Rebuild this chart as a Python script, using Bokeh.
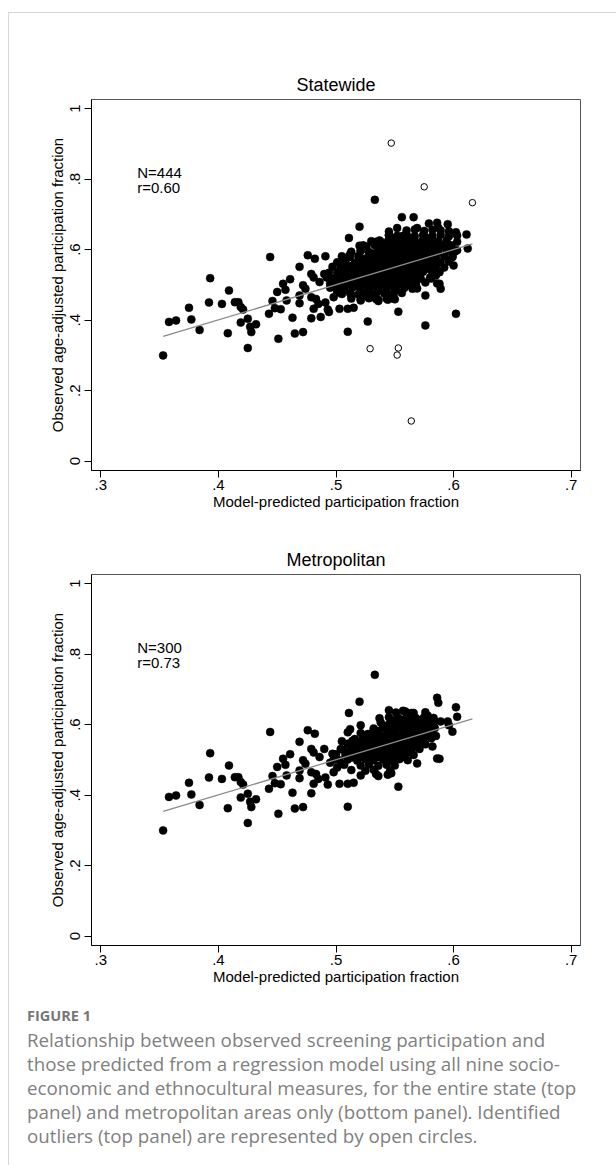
from bokeh.plotting import figure
from bokeh.models import Range1d, FixedTicker, Label, Div
from bokeh.layouts import column
from bokeh.embed import file_html
from bokeh.resources import INLINE

# ---------------- data ----------------
panel_titles = ["Statewide", "Metropolitan"]
n_labels = ["N=444", "N=300"]
r_labels = ["r=0.60", "r=0.73"]
x_title = "Model-predicted participation fraction"
y_title = "Observed age-adjusted participation fraction"
x_ticks = [0.3, 0.4, 0.5, 0.6, 0.7]
x_tick_labels = [".3", ".4", ".5", ".6", ".7"]
y_ticks = [0, 0.2, 0.4, 0.6, 0.8, 1]
y_tick_labels = ["0", ".2", ".4", ".6", ".8", "1"]

# areas present in both panels (lower predicted values)
shared_x = [0.353, 0.358, 0.364, 0.375, 0.377, 0.384, 0.393, 0.392, 0.403, 0.409,
            0.408, 0.414, 0.417, 0.419, 0.421, 0.419, 0.425, 0.427, 0.428, 0.432,
            0.425, 0.443, 0.444, 0.446, 0.448, 0.453, 0.451, 0.450, 0.455, 0.457,
            0.461, 0.458, 0.463, 0.465, 0.472, 0.469, 0.472, 0.474, 0.469, 0.469,
            0.476, 0.482]
shared_y = [0.300, 0.395, 0.399, 0.435, 0.402, 0.372, 0.519, 0.450, 0.446, 0.484,
            0.363, 0.451, 0.451, 0.437, 0.430, 0.393, 0.404, 0.381, 0.366, 0.388,
            0.321, 0.418, 0.579, 0.454, 0.434, 0.431, 0.347, 0.480, 0.503, 0.486,
            0.516, 0.456, 0.407, 0.362, 0.366, 0.551, 0.499, 0.489, 0.470, 0.448,
            0.584, 0.574]

# metropolitan areas (higher predicted values)
metro_x = [0.479, 0.481, 0.490, 0.497, 0.479, 0.483, 0.485, 0.481, 0.479, 0.491,
           0.493, 0.503, 0.510, 0.515, 0.510, 0.505, 0.504, 0.510, 0.512, 0.511,
           0.520, 0.533, 0.521, 0.514, 0.527, 0.537, 0.545, 0.557, 0.564, 0.576,
           0.578, 0.586, 0.587, 0.602, 0.603, 0.589, 0.595, 0.596, 0.599, 0.586,
           0.588, 0.569, 0.553, 0.534, 0.544, 0.547, 0.582, 0.585, 0.498, 0.505,
           0.495, 0.501, 0.498, 0.486,
           0.551, 0.559, 0.566,
           0.545, 0.553, 0.560, 0.568, 0.575, 0.583,
           0.538, 0.546, 0.553, 0.561, 0.568, 0.576, 0.583,
           0.532, 0.540, 0.547, 0.555, 0.562, 0.569, 0.577, 0.584,
           0.521, 0.529, 0.536, 0.543, 0.550, 0.558, 0.565, 0.572, 0.579,
           0.516, 0.523, 0.531, 0.538, 0.545, 0.553, 0.560, 0.567, 0.574, 0.581,
           0.510, 0.518, 0.525, 0.533, 0.540, 0.547, 0.555, 0.562, 0.569, 0.576,
           0.506, 0.513, 0.521, 0.528, 0.535, 0.543, 0.550, 0.557, 0.564, 0.571,
           0.500, 0.508, 0.515, 0.522, 0.530, 0.537, 0.544, 0.552, 0.559, 0.566,
           0.503, 0.510, 0.518, 0.525, 0.532, 0.540, 0.547, 0.554, 0.561,
           0.507, 0.521, 0.528, 0.536, 0.543, 0.550,
           0.513, 0.525, 0.532, 0.546,
           0.521, 0.536,
           0.549, 0.557, 0.564, 0.572, 0.579,
           0.542, 0.550, 0.558, 0.565, 0.572, 0.580,
           0.536, 0.544, 0.551, 0.558, 0.566, 0.573, 0.581,
           0.527, 0.534, 0.541, 0.549, 0.556, 0.563, 0.570, 0.578,
           0.521, 0.528, 0.536, 0.543, 0.551, 0.558, 0.565, 0.572,
           0.516, 0.524, 0.531, 0.539, 0.546, 0.553, 0.560, 0.567,
           0.511, 0.518, 0.526, 0.533, 0.541, 0.548, 0.555, 0.562,
           0.514, 0.521, 0.529, 0.536, 0.543, 0.550, 0.557]
metro_y = [0.531, 0.521, 0.531, 0.517, 0.465, 0.460, 0.446, 0.432, 0.405, 0.450,
           0.430, 0.432, 0.432, 0.435, 0.367, 0.553, 0.531, 0.578, 0.587, 0.633,
           0.665, 0.741, 0.598, 0.554, 0.573, 0.618, 0.641, 0.639, 0.633, 0.635,
           0.625, 0.676, 0.662, 0.649, 0.622, 0.609, 0.609, 0.598, 0.580, 0.504,
           0.503, 0.490, 0.424, 0.460, 0.458, 0.462, 0.538, 0.568, 0.500, 0.488,
           0.492, 0.478, 0.465, 0.508,
           0.634, 0.637, 0.633,
           0.621, 0.619, 0.622, 0.618, 0.621, 0.619,
           0.606, 0.604, 0.607, 0.603, 0.606, 0.604, 0.605,
           0.589, 0.591, 0.588, 0.592, 0.589, 0.591, 0.588, 0.590,
           0.576, 0.574, 0.577, 0.573, 0.576, 0.574, 0.577, 0.573, 0.575,
           0.559, 0.561, 0.558, 0.562, 0.559, 0.561, 0.558, 0.562, 0.559, 0.561,
           0.546, 0.544, 0.547, 0.543, 0.546, 0.544, 0.547, 0.543, 0.546, 0.544,
           0.529, 0.531, 0.528, 0.532, 0.529, 0.531, 0.528, 0.532, 0.529, 0.531,
           0.516, 0.514, 0.517, 0.513, 0.516, 0.514, 0.517, 0.513, 0.516, 0.514,
           0.499, 0.501, 0.498, 0.502, 0.499, 0.501, 0.498, 0.502, 0.499,
           0.486, 0.484, 0.487, 0.483, 0.486, 0.484,
           0.471, 0.469, 0.472, 0.470,
           0.456, 0.454,
           0.612, 0.613, 0.611, 0.613, 0.612,
           0.597, 0.598, 0.596, 0.598, 0.597, 0.596,
           0.582, 0.583, 0.581, 0.583, 0.582, 0.581, 0.583,
           0.567, 0.568, 0.566, 0.568, 0.567, 0.566, 0.568, 0.567,
           0.552, 0.553, 0.551, 0.553, 0.552, 0.551, 0.553, 0.552,
           0.537, 0.538, 0.536, 0.538, 0.537, 0.536, 0.538, 0.537,
           0.522, 0.523, 0.521, 0.523, 0.522, 0.521, 0.523, 0.522,
           0.507, 0.508, 0.506, 0.508, 0.507, 0.506, 0.508]

# non-metropolitan areas (statewide panel only)
nonmetro_x = [0.491, 0.556, 0.566, 0.552, 0.569, 0.579, 0.595, 0.611, 0.612, 0.600,
              0.602, 0.576, 0.576, 0.589, 0.527, 0.507, 0.523, 0.534, 0.538, 0.487,
              0.494, 0.581, 0.585, 0.593, 0.598, 0.603, 0.545,
              0.560, 0.567, 0.575, 0.582, 0.589, 0.596,
              0.545, 0.552, 0.560, 0.567, 0.574, 0.582, 0.589, 0.596, 0.603,
              0.530, 0.537, 0.544, 0.551, 0.558, 0.566, 0.573, 0.580, 0.587, 0.594,
              0.520, 0.526, 0.533, 0.540, 0.547, 0.555, 0.562, 0.569, 0.577, 0.584, 0.591, 0.598,
              0.513, 0.521, 0.528, 0.536, 0.543, 0.550, 0.558, 0.565, 0.572, 0.580, 0.587, 0.594, 0.601,
              0.505, 0.512, 0.519, 0.527, 0.534, 0.541, 0.549, 0.556, 0.563, 0.571, 0.578, 0.585, 0.592, 0.599,
              0.501, 0.508, 0.516, 0.523, 0.530, 0.538, 0.545, 0.552, 0.560, 0.567, 0.574, 0.582, 0.589, 0.596,
              0.497, 0.504, 0.512, 0.519, 0.526, 0.534, 0.541, 0.548, 0.556, 0.563, 0.570, 0.578, 0.585, 0.592,
              0.494, 0.501, 0.508, 0.516, 0.523, 0.530, 0.538, 0.545, 0.552, 0.560, 0.567, 0.574, 0.582, 0.588,
              0.492, 0.499, 0.506, 0.514, 0.521, 0.528, 0.536, 0.543, 0.550, 0.558, 0.565, 0.572, 0.580,
              0.495, 0.502, 0.510, 0.517, 0.524, 0.532, 0.539, 0.546, 0.554, 0.561, 0.568, 0.576,
              0.500, 0.507, 0.514, 0.521, 0.529, 0.536, 0.543, 0.551, 0.558, 0.565,
              0.505, 0.512, 0.519, 0.527, 0.534, 0.541, 0.549, 0.556,
              0.513, 0.521, 0.528, 0.536, 0.543, 0.550]
nonmetro_y = [0.581, 0.692, 0.692, 0.661, 0.661, 0.674, 0.672, 0.643, 0.603, 0.555,
              0.418, 0.385, 0.470, 0.489, 0.396, 0.570, 0.612, 0.622, 0.622, 0.409,
              0.423, 0.518, 0.527, 0.607, 0.612, 0.598, 0.651,
              0.654, 0.657, 0.653, 0.656, 0.654, 0.652,
              0.641, 0.639, 0.642, 0.638, 0.641, 0.639, 0.642, 0.638, 0.640,
              0.624, 0.626, 0.623, 0.627, 0.624, 0.626, 0.623, 0.627, 0.624, 0.626,
              0.611, 0.609, 0.612, 0.608, 0.611, 0.609, 0.612, 0.608, 0.611, 0.609, 0.612, 0.608,
              0.594, 0.596, 0.593, 0.597, 0.594, 0.596, 0.593, 0.597, 0.594, 0.596, 0.593, 0.597, 0.594,
              0.581, 0.579, 0.582, 0.578, 0.581, 0.579, 0.582, 0.578, 0.581, 0.579, 0.582, 0.578, 0.581, 0.579,
              0.564, 0.566, 0.563, 0.567, 0.564, 0.566, 0.563, 0.567, 0.564, 0.566, 0.563, 0.567, 0.564, 0.566,
              0.551, 0.549, 0.552, 0.548, 0.551, 0.549, 0.552, 0.548, 0.551, 0.549, 0.552, 0.548, 0.551, 0.549,
              0.534, 0.536, 0.533, 0.537, 0.534, 0.536, 0.533, 0.537, 0.534, 0.536, 0.533, 0.537, 0.534, 0.536,
              0.521, 0.519, 0.522, 0.518, 0.521, 0.519, 0.522, 0.518, 0.521, 0.519, 0.522, 0.518, 0.521,
              0.504, 0.506, 0.503, 0.507, 0.504, 0.506, 0.503, 0.507, 0.504, 0.506, 0.503, 0.507,
              0.491, 0.489, 0.492, 0.488, 0.491, 0.489, 0.492, 0.488, 0.491, 0.489,
              0.474, 0.476, 0.473, 0.477, 0.474, 0.476, 0.473, 0.477,
              0.461, 0.459, 0.462, 0.458, 0.461, 0.459]

# identified outliers (statewide panel, open circles)
outlier_x = [0.547, 0.575, 0.616, 0.529, 0.553, 0.552, 0.564]
outlier_y = [0.902, 0.778, 0.733, 0.319, 0.321, 0.301, 0.114]

# fitted regression line (same in both panels)
fit_x = [0.353, 0.616]
fit_y = [0.354, 0.616]

caption_head = "FIGURE 1"
caption_lines = [
    "Relationship between observed screening participation and",
    "those predicted from a regression model using all nine socio-",
    "economic and ethnocultural measures, for the entire state (top",
    "panel) and metropolitan areas only (bottom panel). Identified",
    "outliers (top panel) are represented by open circles.",
]

# ---------------- drawing ----------------
FONT = "Liberation Sans"
W = 606


def make_panel(title, height, top, bottom, fx, fy, ox, oy, n_text, r_text):
    p = figure(width=W, height=height, output_backend="svg", toolbar_location=None,
               x_range=Range1d(0.2921, 0.7079), y_range=Range1d(-0.0264, 1.0256),
               min_border_left=82, min_border_right=W - 82 - 489,
               min_border_top=top, min_border_bottom=bottom, title=title)
    p.title.align = "center"
    p.title.text_font = FONT
    p.title.text_font_size = "18px"
    p.title.text_font_style = "normal"
    p.title.text_color = "black"
    p.title.standoff = 10
    p.grid.visible = False
    p.outline_line_color = "#555555"
    p.outline_line_width = 1
    p.background_fill_color = "white"
    p.border_fill_color = "white"

    for ax in (p.xaxis[0], p.yaxis[0]):
        ax.axis_line_color = "black"
        ax.major_tick_line_color = "black"
        ax.major_tick_out = 7
        ax.major_tick_in = 0
        ax.minor_tick_line_color = None
        ax.major_label_text_font = FONT
        ax.major_label_text_font_size = "15px"
        ax.major_label_text_color = "black"
        ax.axis_label_text_font = FONT
        ax.axis_label_text_font_size = "15px"
        ax.axis_label_text_font_style = "normal"
        ax.axis_label_text_color = "black"

    p.xaxis.ticker = FixedTicker(ticks=x_ticks)
    p.xaxis.major_label_overrides = dict(zip(x_ticks, x_tick_labels))
    p.xaxis.axis_label = x_title
    p.xaxis.major_label_standoff = 2
    p.xaxis.axis_label_standoff = 0

    p.yaxis.ticker = FixedTicker(ticks=y_ticks)
    p.yaxis.major_label_overrides = dict(zip(y_ticks, y_tick_labels))
    p.yaxis.axis_label = y_title
    p.yaxis.major_label_orientation = "vertical"
    p.yaxis.major_label_standoff = 4
    p.yaxis.axis_label_standoff = 2

    p.scatter(fx, fy, size=8, fill_color="black", line_color="black", line_width=0.5)
    if ox:
        p.scatter(ox, oy, size=6.5, fill_color=None, line_color="black", line_width=1)
    p.line(fit_x, fit_y, line_color="#8a8a8a", line_width=1.3)

    for txt, yy in ((n_text, 0.818), (r_text, 0.775)):
        p.add_layout(Label(x=0.331, y=yy, text=txt, text_font=FONT, text_font_size="15px",
                           text_align="left", text_baseline="middle", text_color="black"))
    return p


state_fx = shared_x + metro_x + nonmetro_x
state_fy = shared_y + metro_y + nonmetro_y
metro_fx = shared_x + metro_x
metro_fy = shared_y + metro_y

p1 = make_panel(panel_titles[0], 517, 86, 60, state_fx, state_fy, outlier_x, outlier_y,
                n_labels[0], r_labels[0])
p2 = make_panel(panel_titles[1], 465, 44, 50, metro_fx, metro_fy, [], [],
                n_labels[1], r_labels[1])

CAP_H = 168
CAP_LEFT = 13
parts = [f'<div style="position:relative;width:{W}px;height:{CAP_H}px;'
         f'font-family:\'Open Sans\',sans-serif;">']
parts.append(f'<div style="position:absolute;left:{CAP_LEFT}px;top:4px;line-height:24px;'
             'font-size:14.5px;font-weight:bold;color:#777777;white-space:nowrap;">'
             f'{caption_head}</div>')
for i, line in enumerate(caption_lines):
    top = 28 + 24 * i
    parts.append(f'<div style="position:absolute;left:{CAP_LEFT}px;top:{top}px;'
                 'line-height:24px;font-size:18.75px;color:#808080;white-space:nowrap;">'
                 f'{line}</div>')
parts.append('</div>')
cap = Div(text="".join(parts), width=W, height=CAP_H)

layout = column(p1, p2, cap, spacing=0,
                styles={"border-top": "1px solid #d8d8d8",
                        "border-left": "1px solid #d8d8d8",
                        "margin-left": "8px",
                        "margin-top": "12px"})

open("out.html", "w").write(file_html(layout, INLINE))
